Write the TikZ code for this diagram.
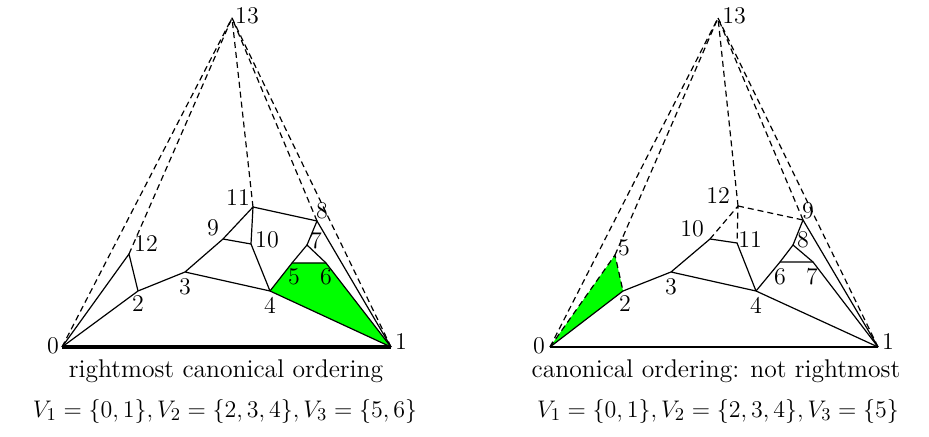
\documentclass[tikz,border=0pt]{standalone}
\usepackage{amsmath}
\usetikzlibrary{backgrounds}
\definecolor{cFace}{HTML}{00FF00}
\definecolor{cInk}{HTML}{000000}
\tikzset{
  every picture/.style={line width=0.6pt},
  edge/.style={draw=cInk, line width=0.6pt, line join=round},
  rail/.style={draw=cInk, line width=2.2pt},
  virt/.style={edge, dash pattern=on 3pt off 2pt},
  face/.style={fill=cFace},
  lbl/.style={font=\fontsize{12}{14}\selectfont, text=cInk, inner sep=0pt},
  captxt/.style={font=\fontsize{12.8}{15}\selectfont, text=cInk, inner sep=0pt},
}

\begin{document}
\begin{tikzpicture}[x=0.5pt,y=-0.5pt]
\useasboundingbox (0,0) rectangle (929,437);

% ------------------------------------------------------------ left: rightmost
\coordinate (a0)  at (62,347);
\coordinate (a1)  at (391,347);
\coordinate (a2)  at (138,291);
\coordinate (a3)  at (185,272);
\coordinate (a4)  at (270,291);
\coordinate (a5)  at (292,263);
\coordinate (a6)  at (326,263);
\coordinate (a7)  at (307,245);
\coordinate (a8)  at (317,221);
\coordinate (a9)  at (223,239);
\coordinate (a10) at (251,244);
\coordinate (a11) at (253,207);
\coordinate (a12) at (129,254);
\coordinate (a13) at (232,18);

\fill[face] (a4) -- (a5) -- (a6) -- (a1) -- cycle;

\draw[edge] (a0) -- (a2) -- (a3) -- (a9) -- (a11) -- (a10) -- (a4) -- (a3);
\draw[edge] (a9) -- (a10);
\draw[edge] (a0) -- (a12) -- (a2);
\draw[edge] (a4) -- (a1);
\draw[edge] (a4) -- (a5) -- (a6) -- (a1);
\draw[edge] (a5) -- (a7) -- (a6);
\draw[edge] (a7) -- (a8) -- (a1);
\draw[edge] (a11) -- (a8);
\draw[rail] (a0) -- (a1);
\foreach \v in {0,12,11,8,1}
  \draw[virt] (a\v) -- (a13);

\node[lbl] (la0)  at (53,346)  {0};
\node[lbl] (la1)  at (401,342) {1};
\node[lbl] (la2)  at (138,304) {2};
\node[lbl] (la3)  at (185,287) {3};
\node[lbl] (la4)  at (270,305) {4};
\node[lbl] (la5)  at (294,277) {5};
\node[lbl] (la6)  at (326,277) {6};
\node[lbl] (la7)  at (316,241) {7};
\node[lbl] (la8)  at (322,211) {8};
\node[lbl] (la9)  at (213,228) {9};
\node[lbl] (la10) at (267,240) {10};
\node[lbl] (la11) at (238,198) {11};
\node[lbl] (la12) at (146,244) {12};
\node[lbl] (la13) at (247,16)  {13};

\node[captxt] (ta) at (226,371) {rightmost canonical ordering};
\node[captxt] (ma) at (225,411) {$V_1=\{0,1\}, V_2=\{2,3,4\}, V_3=\{5,6\}$};

% ------------------------------------------------------------ right: not rightmost
\coordinate (b0)  at (550,347);
\coordinate (b1)  at (878,347);
\coordinate (b2)  at (623,291);
\coordinate (b3)  at (671,272);
\coordinate (b4)  at (756,291);
\coordinate (b5)  at (615,255);
\coordinate (b6)  at (780,262);
\coordinate (b7)  at (813,262);
\coordinate (b8)  at (793,245);
\coordinate (b9)  at (803,220);
\coordinate (b10) at (710,239);
\coordinate (b11) at (737,243);
\coordinate (b12) at (738,206);
\coordinate (b13) at (718,18);

\fill[face] (b0) -- (b5) -- (b2) -- cycle;

\draw[edge] (b0) -- (b2) -- (b3) -- (b10) -- (b11) -- (b4) -- (b3);
\draw[edge] (b4) -- (b1);
\draw[edge] (b4) -- (b6) -- (b7) -- (b1);
\draw[edge] (b6) -- (b8) -- (b7);
\draw[edge] (b8) -- (b9) -- (b1);
\draw[edge] (b0) -- (b1);
\draw[virt] (b0) -- (b5) -- (b2);
\draw[virt] (b10) -- (b12) -- (b11);
\draw[virt] (b12) -- (b9);
\foreach \v in {0,5,12,9,1}
  \draw[virt] (b\v) -- (b13);

\node[lbl] (lb0)  at (539,346) {0};
\node[lbl] (lb1)  at (888,342) {1};
\node[lbl] (lb2)  at (625,304) {2};
\node[lbl] (lb3)  at (671,287) {3};
\node[lbl] (lb4)  at (756,305) {4};
\node[lbl] (lb5)  at (624,248) {5};
\node[lbl] (lb6)  at (780,277) {6};
\node[lbl] (lb7)  at (812,277) {7};
\node[lbl] (lb8)  at (803,240) {8};
\node[lbl] (lb9)  at (808,211) {9};
\node[lbl] (lb10) at (692,229) {10};
\node[lbl] (lb11) at (750,240) {11};
\node[lbl] (lb12) at (718,196) {12};
\node[lbl] (lb13) at (734,16)  {13};

\node[captxt] (tb) at (716,371) {canonical ordering: not rightmost};
\node[captxt] (mb) at (718,411) {$V_1=\{0,1\}, V_2=\{2,3,4\}, V_3=\{5\}$};

\end{tikzpicture}
\end{document}
